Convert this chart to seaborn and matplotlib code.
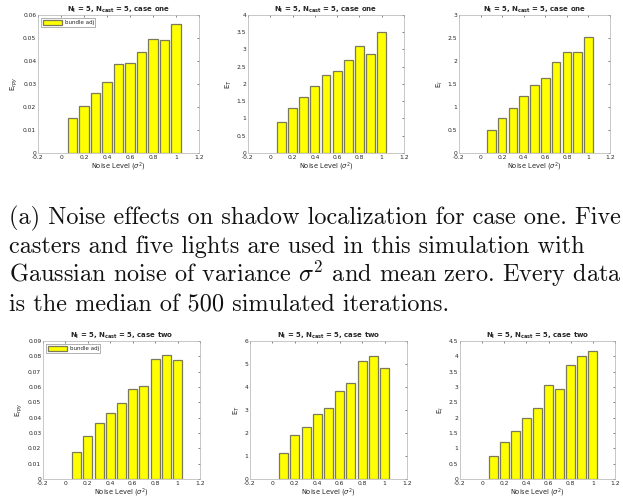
import matplotlib
matplotlib.use("Agg")
import matplotlib.pyplot as plt
import matplotlib.ticker as mticker
import seaborn as sns


NOISE = [0.1, 0.2, 0.3, 0.4, 0.5, 0.6, 0.7, 0.8, 0.9, 1.0]

# case one
ONE_RPY = [0.0154, 0.0206, 0.0263, 0.0308, 0.0388, 0.0390, 0.0440, 0.0494, 0.0490, 0.0560]
ONE_T = [0.90, 1.29, 1.61, 1.93, 2.27, 2.39, 2.69, 3.09, 2.86, 3.52]
ONE_L = [0.51, 0.755, 0.98, 1.23, 1.47, 1.62, 1.98, 2.19, 2.20, 2.52]

# case two
TWO_RPY = [0.0173, 0.0283, 0.0365, 0.0430, 0.0497, 0.0587, 0.0609, 0.0782, 0.0808, 0.0773]
TWO_T = [1.15, 1.91, 2.27, 2.83, 3.09, 3.83, 4.17, 5.14, 5.34, 4.82]
TWO_L = [0.75, 1.20, 1.55, 1.99, 2.31, 3.08, 2.95, 3.72, 4.02, 4.16]

YLABELS = [r"E$_{rpy}$", r"E$_T$", r"E$_l$"]
YLIMS = [[(0, 0.06), (0, 4), (0, 3)], [(0, 0.09), (0, 6), (0, 4.5)]]
YSTEPS = [[0.01, 0.5, 0.5], [0.01, 1, 0.5]]
CASES = ["one", "two"]

CAPTION = [
    "(a) Noise effects on shadow localization for case one. Five",
    "casters and five lights are used in this simulation with",
    r"Gaussian noise of variance $\sigma^2$ and mean zero. Every data",
    "is the median of 500 simulated iterations.",
]

# axes rectangles in pixels (left, top, right, bottom)
W, H = 623, 499
AX_PX = [
    [(38, 15, 199, 153), (248, 15, 404, 153), (459, 15, 610, 153)],
    [(43, 341, 200, 479), (250, 341, 407, 479), (460, 341, 615, 479)],
]


def px_rect(r):
    l, t, rr, b = r
    return [l / W, 1 - b / H, (rr - l) / W, (b - t) / H]


def draw_panel(fig, rect, values, ylabel, ylim, ystep, case, legend):
    ax = fig.add_axes(px_rect(rect))
    sns.barplot(
        x=NOISE,
        y=values,
        native_scale=True,
        width=0.8,
        color="#ffff00",
        edgecolor="#7a7a5a",
        linewidth=0.9,
        saturation=1,
        label="bundle adj",
        ax=ax,
    )
    ax.set_xlim(-0.2, 1.2)
    ax.set_ylim(*ylim)
    ax.xaxis.set_major_locator(mticker.MultipleLocator(0.2))
    ax.yaxis.set_major_locator(mticker.MultipleLocator(ystep))
    ax.xaxis.set_major_formatter(mticker.FuncFormatter(lambda v, p: f"{round(v, 3):g}"))
    ax.yaxis.set_major_formatter(mticker.FuncFormatter(lambda v, p: f"{round(v, 4):g}"))
    ax.tick_params(direction="in", length=1.5, width=0.4, labelsize=4.3,
                   colors="#262626", top=True, right=True, pad=1.2)
    for s in ax.spines.values():
        s.set_color("#b0b0b0")
        s.set_linewidth(0.5)
    ax.set_xlabel(r"Noise Level ($\sigma^2$)", fontsize=4.8, color="#262626", labelpad=0.5)
    ax.set_ylabel(ylabel, fontsize=5, color="#262626", labelpad=2)
    ax.set_title(
        r"N$_\mathbf{l}$ = 5, N$_\mathbf{cast}$ = 5, case " + case,
        fontsize=5, fontweight="bold", pad=2.5,
    )
    if legend:
        ax.legend(loc="upper left", fontsize=4, frameon=True, fancybox=False,
                  edgecolor="#555555", handlelength=3.5, handleheight=0.9,
                  borderpad=0.3, handletextpad=0.4, borderaxespad=0.6)
        ax.get_legend().get_frame().set_linewidth(0.4)
    else:
        leg = ax.get_legend()
        if leg is not None:
            leg.remove()
    return ax


def main():
    sns.set_theme(style="white")
    plt.rcParams["font.family"] = ["DejaVu Sans"]
    plt.rcParams["axes.unicode_minus"] = False
    plt.rcParams["mathtext.fontset"] = "dejavusans"

    fig = plt.figure(figsize=(W / 100, H / 100), dpi=100)
    fig.patch.set_facecolor("white")

    data = [[ONE_RPY, ONE_T, ONE_L], [TWO_RPY, TWO_T, TWO_L]]
    for row in range(2):
        for col in range(3):
            draw_panel(fig, AX_PX[row][col], data[row][col], YLABELS[col],
                       YLIMS[row][col], YSTEPS[row][col], CASES[row], col == 0)

    # caption sits between the two rows, runs off the right edge like the source
    baselines = [224, 253, 282, 311]
    for line, yb in zip(CAPTION, baselines):
        fig.text(9 / W, 1 - yb / H, line, fontsize=17.5, family="cmr10",
                 va="baseline", ha="left", color="#111111",
                 math_fontfamily="cm")

    fig.savefig("out.png", dpi=100)


if __name__ == "__main__":
    main()
